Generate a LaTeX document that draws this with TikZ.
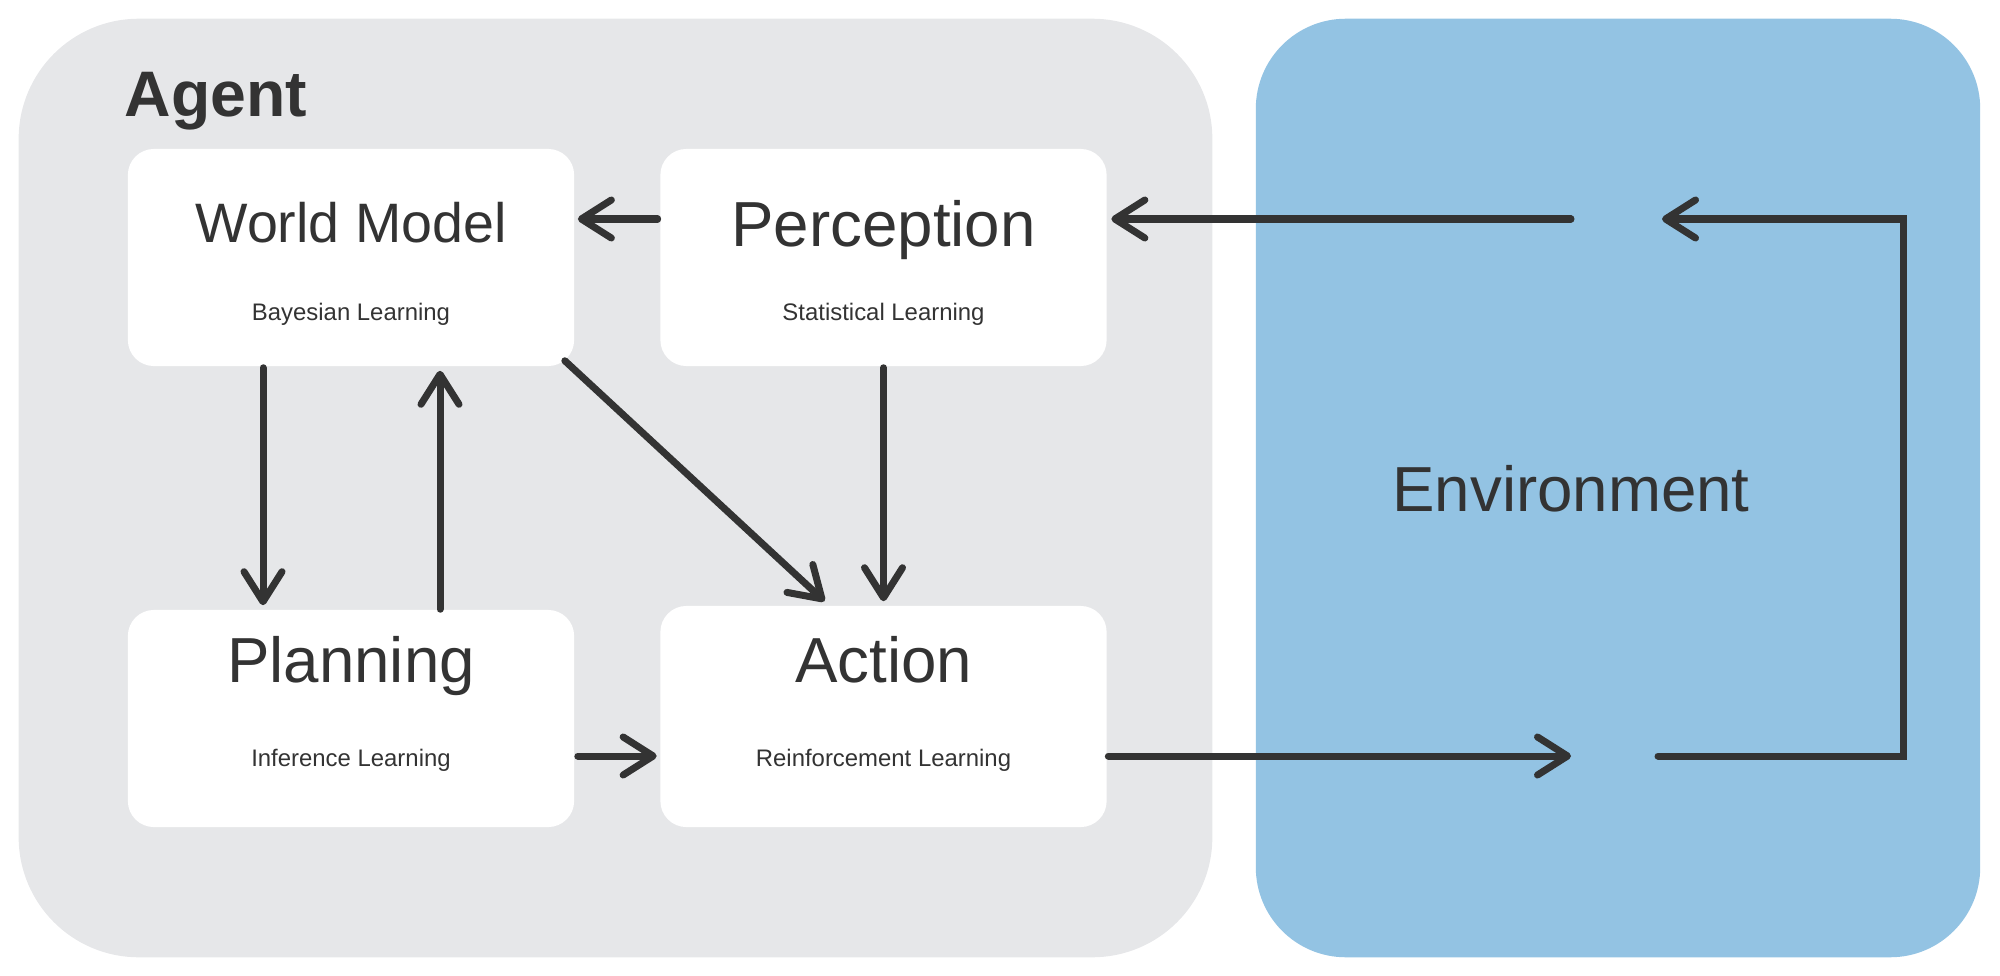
\documentclass[tikz,border=0pt]{standalone}
\usepackage{fontspec}
\setmainfont{Liberation Sans}
\usetikzlibrary{arrows.meta,positioning,calc}
\definecolor{agentgrey}{HTML}{E6E7E9}
\definecolor{envblue}{HTML}{93C3E3}
\definecolor{inkdark}{HTML}{333333}
\tikzset{
  ag/agentpanel/.style={fill=agentgrey, rounded corners=1.2cm, minimum width=11.93cm, minimum height=9.38cm, inner sep=0pt},
  ag/envpanel/.style={fill=envblue, rounded corners=0.9cm, minimum width=7.24cm, minimum height=9.38cm, inner sep=0pt},
  ag/box/.style={fill=white, rounded corners=0.26cm, minimum width=4.46cm, minimum height=2.17cm, inner sep=0pt},
  ag/title/.style={anchor=base, inner sep=0pt, text=inkdark, font=\fontsize{18.1}{20}\selectfont},
  ag/sub/.style={anchor=base, inner sep=0pt, text=inkdark, font=\fontsize{6.8}{8}\selectfont},
  ag/label/.style={anchor=base west, inner sep=0pt, text=inkdark, font=\fontsize{18.3}{20}\selectfont\bfseries},
  ag/arr/.style={draw=inkdark, line width=0.07cm, line cap=round, -{Straight Barb[length=0.3cm, width=0.38cm, round]}}
}
\begin{document}
\begin{tikzpicture}[x=0.01cm, y=-0.01cm]
  \useasboundingbox (0,0) rectangle (2000,976);
  % panels
  \node[ag/agentpanel] (agent) at (615.5,488) {};
  \node[ag/envpanel] (env) at (1618,488) {};
  \node[ag/label] (agentl) at (124,117) {Agent};
  \node[ag/title] (envt) at (1571,511) {Environment};

  % boxes
  \node[ag/box] (wm) at (351,257.5) {};
  \node[ag/box] (pc) at (883.5,257.5) {};
  \node[ag/box] (pl) at (351,718.5) {};
  \node[ag/box, minimum height=2.21cm] (ac) at (883.5,716.5) {};
  \node[ag/title, font=\fontsize{15.8}{18}\selectfont] (wmt) at (351,242) {World Model};
  \node[ag/title] (pct) at (883.5,246) {Perception};
  \node[ag/title] (plt) at (351,682) {Planning};
  \node[ag/title] (act) at (883.5,682) {Action};
  \node[ag/sub] (wms) at (351,320) {Bayesian Learning};
  \node[ag/sub] (pcs) at (883.5,320) {Statistical Learning};
  \node[ag/sub] (pls) at (351,766) {Inference Learning};
  \node[ag/sub] (acs) at (883.5,766) {Reinforcement Learning};

  % loop ends
  \coordinate (obs) at (1571,219);
  \coordinate (act2env) at (1571,756);
  \coordinate (loopin) at (1662,219);
  \coordinate (loopout) at (1658,756);
  \coordinate (loopcnr) at (1903,219);

  % connectors
  \draw[ag/arr, shorten <=0.02cm, shorten >=0.03cm] (pc.west |- obs) -- (wm.east |- obs);
  \draw[ag/arr, shorten >=0.04cm] (obs) -- (pc.east |- obs);
  \draw[ag/arr] (loopout) -| (loopcnr) -- (loopin);
  \draw[ag/arr, shorten <=0.01cm] (ac.east |- act2env) -- (act2env);
  \draw[ag/arr, shorten <=0.03cm, shorten >=0.03cm] (pl.east |- act2env) -- (ac.west |- act2env);
  \draw[ag/arr, shorten <=0.01cm, shorten >=0.04cm] ($(wm.south)+(-88,0)$) -- ($(pl.north)+(-88,0)$);
  \draw[ag/arr, shorten >=0.04cm] ($(pl.north)+(89,0)$) -- ($(wm.south)+(89,0)$);
  \draw[ag/arr] ($(wm.south east)+(-10,-6)$) -- ($(ac.north)+(-59,-4)$);
  \draw[ag/arr, shorten <=0.01cm, shorten >=0.04cm] (pc.south) -- (ac.north);
\end{tikzpicture}
\end{document}
